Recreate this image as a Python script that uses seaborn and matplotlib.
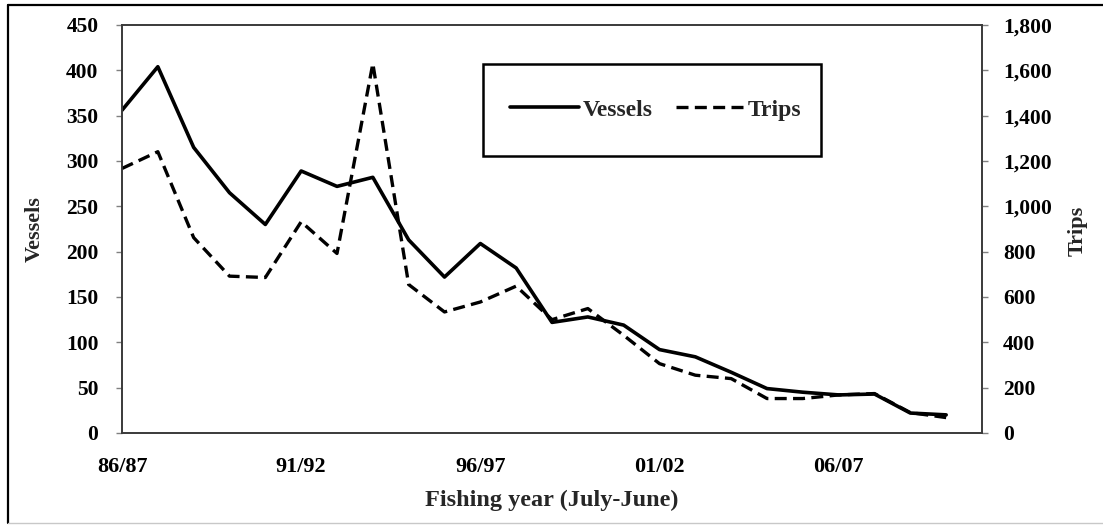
import matplotlib
matplotlib.use("Agg")
import matplotlib.pyplot as plt
from matplotlib.lines import Line2D
from matplotlib.patches import Rectangle
import numpy as np
import pandas as pd
import seaborn as sns

# Fishing years (July-June) and annual effort
years = ["86/87", "87/88", "88/89", "89/90", "90/91", "91/92", "92/93", "93/94",
         "94/95", "95/96", "96/97", "97/98", "98/99", "99/00", "00/01", "01/02",
         "02/03", "03/04", "04/05", "05/06", "06/07", "07/08", "08/09", "09/10"]
vessels = [356, 404, 315, 265, 230, 289, 272, 282, 213, 172, 209, 182,
           122, 128, 119, 92, 84, 67, 49, 45, 42, 43, 22, 20]
trips = [1167, 1241, 862, 692, 686, 932, 792, 1630, 655, 534, 578, 648,
         500, 549, 431, 306, 255, 240, 152, 152, 168, 174, 90, 68]
labelled_years = ["86/87", "91/92", "96/97", "01/02", "06/07"]
vessel_ticks = list(range(0, 451, 50))
trip_ticks = list(range(0, 1801, 200))

df = pd.DataFrame({"year": years, "Vessels": vessels, "Trips": trips})
df["pos"] = np.arange(len(df))

sns.set_style("white")
plt.rcParams["font.family"] = ["Liberation Serif", "DejaVu Serif"]
plt.rcParams["font.weight"] = "bold"

W, H = 1103, 525
fig = plt.figure(figsize=(W / 100, H / 100), dpi=100)
fig.patch.set_facecolor("white")

left, right, top, bottom = 122, 982, 25, 433
ax = fig.add_axes([left / W, 1 - bottom / H, (right - left) / W, (bottom - top) / H])
ax2 = ax.twinx()

sns.lineplot(data=df, x="pos", y="Vessels", ax=ax, color="black", lw=2.6,
             label="Vessels", legend=False)
sns.lineplot(data=df, x="pos", y="Trips", ax=ax2, color="black", lw=2.4,
             label="Trips", legend=False)
ax2.lines[0].set_dashes((3.6, 1.9))

ax.set_xlim(0, len(years))
ax.set_ylim(0, 450)
ax2.set_ylim(0, 1800)

label_pos = [years.index(y) for y in labelled_years]
ax.set_xticks(label_pos)
ax.set_xticklabels(labelled_years)
ax.set_xticks(np.arange(0, len(years) + 1), minor=True)
ax.set_yticks(vessel_ticks)
ax.set_yticklabels([f"{v}" for v in vessel_ticks])
ax2.set_yticks(trip_ticks)
ax2.set_yticklabels([f"{v:,}" for v in trip_ticks])

for a in (ax, ax2):
    a.set_xlabel("")
    a.set_ylabel("")
    for s in a.spines.values():
        s.set_color("#3a3a3a")
        s.set_linewidth(1.2)
        s.set_visible(True)

tick_kw = dict(direction="out", length=4, width=1, color="#808080",
               labelcolor="black")
ax.tick_params(axis="x", which="both", pad=13, labelsize=16, **tick_kw)
ax.tick_params(axis="y", left=True, pad=13, labelsize=15.5, **tick_kw)
ax2.tick_params(axis="y", right=True, pad=11, labelsize=15.5, **tick_kw)
for lab in ax.get_xticklabels() + ax.get_yticklabels() + ax2.get_yticklabels():
    lab.set_fontweight("bold")

# Axis titles
fig.text(35 / W, 1 - 229 / H, "Vessels", rotation=90, ha="center", va="center",
         fontsize=16, fontweight="bold")
fig.text(1078 / W, 1 - 231 / H, "Trips", rotation=90, ha="center", va="center",
         fontsize=16, fontweight="bold")
fig.text(552 / W, 1 - 500 / H, "Fishing year (July-June)", ha="center", va="center",
         fontsize=17.5, fontweight="bold")

# Legend inside a framed box
handles = [ax.lines[0], ax2.lines[0]]
leg = fig.legend(handles, ["Vessels", "Trips"], loc="center", ncol=2,
                 bbox_to_anchor=(656 / W, 1 - 110 / H), frameon=False,
                 prop={"family": "Liberation Serif", "weight": "bold", "size": 17},
                 handlelength=2.9, handletextpad=0.15, columnspacing=1.0)
fig.patches.append(Rectangle((483 / W, 1 - 156 / H), 338 / W, 92 / H,
                             transform=fig.transFigure, fill=False,
                             edgecolor="black", lw=1.8, zorder=5))

# Outer frame
fig.lines.append(Line2D([8 / W, 8 / W], [1 - 5 / H, 1 - 523 / H], transform=fig.transFigure,
                        color="black", lw=1.6))
fig.lines.append(Line2D([8 / W, 1], [1 - 5 / H, 1 - 5 / H], transform=fig.transFigure,
                        color="black", lw=1.6))
fig.lines.append(Line2D([8 / W, 1], [1 - 523 / H, 1 - 523 / H], transform=fig.transFigure,
                        color="#c8c8c8", lw=1.0))

fig.savefig("out.png", dpi=100)
